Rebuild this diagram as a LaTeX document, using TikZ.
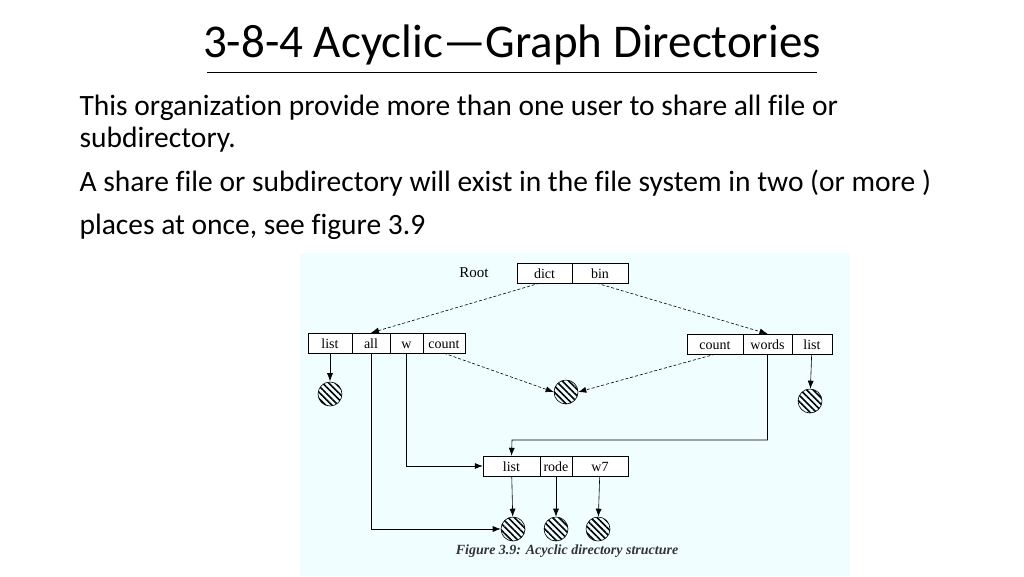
\documentclass[tikz,border=0pt]{standalone}
\usepackage{fontspec}
\setmainfont[Ligatures=CommonOff]{Carlito}
\newfontfamily\figfont{Liberation Serif}
\usetikzlibrary{patterns.meta,arrows.meta}
\begin{document}
\begin{tikzpicture}[x=1pt, y=-1pt,
  cell/.style={draw, fill=white, minimum height=20pt, inner sep=0pt, text height=12pt, text depth=1pt, font=\figfont\fontsize{14}{16}\selectfont},
  ball/.style={draw, semithick, circle, minimum size=24pt, inner sep=0pt, pattern={Lines[angle=-45, distance=4.5pt, line width=1.6pt]}},
  line/.style={anchor=base west, font=\fontsize{29.5}{32}\selectfont},
  link/.style={-{Latex[length=8pt,width=6pt]}, semithick},
  dlink/.style={link, densely dashed}]

% Page and figure area
\useasboundingbox (0,0) rectangle (1024,576);
\fill[white] (0,0) rectangle (1024,576);
\fill[blue!4!cyan!6] (300,253) rectangle (850,576);

% Title and text
\node (title) at (512,45) {\fontsize{47}{50}\selectfont 3-8-4 Acyclic---Graph Directories};
\draw (207,72) -- (817,72);
\node[line] (l1) at (76,115) {This organization provide more than one user to share all file or};
\node[line] (l2) at (76,147) {subdirectory.};
\node[line] (l3) at (76,191) {A share file or subdirectory will exist in the file system in two (or more )};
\node[line] (l4) at (76,234) {places at once, see figure 3.9};

% Root directory
\node[font=\figfont\fontsize{15}{17}\selectfont] (root) at (474,273) {Root};
\node[cell, minimum width=55pt] (dict) at (544.5,273) {dict};
\node[cell, minimum width=56pt] (bin) at (600,273) {bin};

% Left directory
\node[cell, minimum width=44pt] (llist) at (330,343) {list};
\node[cell, minimum width=38pt] (all) at (371,343) {all};
\node[cell, minimum width=33pt] (w) at (406.5,343) {w};
\node[cell, minimum width=42pt] (lcount) at (444,343) {count};

% Right directory
\node[cell, minimum width=56pt] (rcount) at (715,344) {count};
\node[cell, minimum width=49pt] (words) at (767.5,344) {words};
\node[cell, minimum width=40pt] (rlist) at (812,344) {list};

% Lower directory
\node[cell, minimum width=57pt] (blist) at (511.5,466) {list};
\node[cell, minimum width=32pt] (rode) at (556,466) {rode};
\node[cell, minimum width=56pt] (w7) at (600,466) {w7};

% Files
\node[ball] (f1) at (330,394) {};
\node[ball] (f2) at (566,392) {};
\node[ball] (f3) at (810,401) {};
\node[ball] (f4) at (513,529) {};
\node[ball] (f5) at (556,529) {};
\node[ball] (f6) at (598,529) {};

% Links
\draw[dlink] (dict.south) ++(-5,0) -- (all.north);
\draw[dlink] (bin.south west) ++(25,0) -- (words.north);
\draw[dlink] (lcount.south) -- (f2.west);
\draw[dlink] (rcount.south) -- (f2.east);
\draw[link] (llist) -- (f1);
\draw[link] (rlist) -- (f3);
\draw[link] (blist) -- (f4);
\draw[link] (rode) -- (f5);
\draw[link] (w7) -- (f6);
\draw[link] (all.south) |- (f4.west);
\draw[link] (w.south) |- (blist.west);
\draw[link] (words.south) |- (512,440) -- (blist.north);

% Caption
\node[font=\figfont\bfseries\itshape\fontsize{14}{16}\selectfont, text=black!80] (cap) at (567,551)
  {Figure 3.9: Acyclic directory structure};
\end{tikzpicture}
\end{document}
